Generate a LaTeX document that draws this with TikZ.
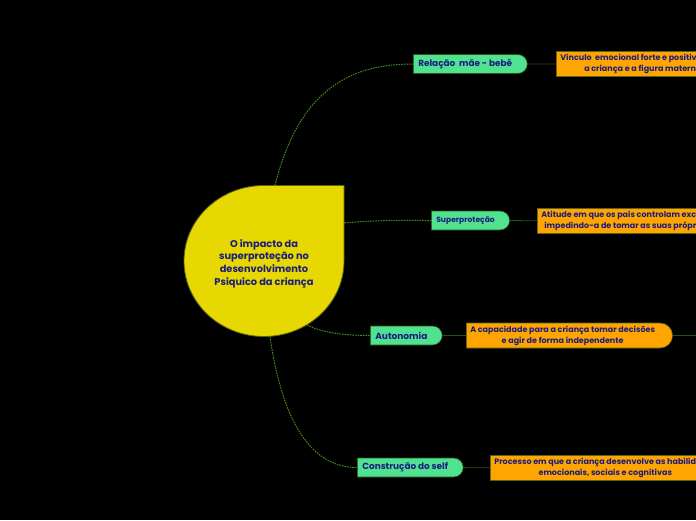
\documentclass[tikz,border=0pt]{standalone}
\usepackage{fontspec}
\setmainfont{Poppins}
\definecolor{mmyellow}{RGB}{230,216,0}
\definecolor{mmolive}{RGB}{90,100,20}
\definecolor{mmgreen}{RGB}{80,226,145}
\definecolor{mmorange}{RGB}{255,165,0}
\definecolor{mmnavy}{RGB}{28,28,128}
\definecolor{mmlink}{RGB}{70,140,20}
\definecolor{mmbranch}{RGB}{40,85,15}
\usetikzlibrary{shapes.misc,shapes.geometric,positioning}
\newcommand{\twolines}[1]{\begin{tabular}{@{}c@{}}#1\end{tabular}}

\begin{document}
\begin{tikzpicture}[
  x=1pt,y=-1pt,
  every node/.style={text=mmnavy},
  rootnode/.style={ellipse,minimum width=160pt,minimum height=151pt,inner sep=0pt,
                   align=center,font=\bfseries\fontsize{9.8}{12.7}\selectfont},
  topic/.style={rounded rectangle,rounded rectangle left arc=none,fill=mmgreen,
                draw=mmbranch,line width=0.6pt,minimum height=19pt,inner xsep=5pt,
                inner ysep=0pt,anchor=west,execute at end node={\hspace{9pt}},
                font=\bfseries\fontsize{8.9}{10}\selectfont},
  idea/.style={rounded rectangle,rounded rectangle left arc=none,fill=mmorange,
               draw=mmolive,line width=0.6pt,minimum height=25pt,inner xsep=4pt,
               inner ysep=0pt,anchor=west,execute at end node={\hspace{7pt}},
               font=\bfseries\fontsize{8}{11}\selectfont},
  link/.style={dash pattern=on 1.6pt off 1pt,line width=1pt,mmlink},
  branch/.style={line width=0.8pt,mmbranch},
]
  \fill[black] (0,0) rectangle (696,520);
  \useasboundingbox (0,0) rectangle (696,520);
  \clip (0,0) rectangle (696,520);

  % central idea
  \fill[mmyellow,draw=mmolive,line width=0.8pt]
    (344,261) arc[start angle=0,end angle=270,x radius=80,y radius=75.5]
    -- (344,185.5) -- cycle;
  \node[rootnode,yshift=-2.5pt] (root) at (264,261)
    {O impacto da\\superproteção no\\desenvolvimento\\Psiquico da criança};

  % main topics
  \node[topic] (rel) at (413,64) {Relação~ mãe - bebê};
  \node[topic,font=\bfseries\fontsize{7.6}{9}\selectfont] (sup) at (431,220.5) {Superproteção};
  \node[topic,font=\bfseries\fontsize{9}{10}\selectfont] (aut) at (370,335.5) {Autonomia};
  \node[topic] (self) at (357,467.5) {Construção do self};

  % details
  \node[idea] (relidea) at (556,64)
    {\twolines{Vínculo~ emocional forte e positivo entre\\a criança e a figura materna}};
  \node[idea] (supidea) at (537,221)
    {\twolines{Atitude em que os pais controlam excessivamente\\impedindo-a de tomar as suas próprias decisões}};
  \node[idea] (autidea) at (466,335.5)
    {\twolines{A capacidade para a criança tomar decisões\\e agir de forma independente}};
  \node[idea] (selfidea) at (490,468)
    {\twolines{Processo em que a criança desenvolve as habilidades\\emocionais, sociais e cognitivas}};
  \coordinate (autnext) at (730,335.5);

  % links
  \draw[link] ([shift={(11pt,2.5pt)}]root.north) .. controls +(25,-100) and +(-58,0) .. (rel.west);
  \draw[link] ([yshift=40.5pt]root.east) .. controls +(30,-3) and +(-30,0) .. (sup.west);
  \draw[link] ([yshift=2.5pt]root.-56) .. controls +(15,8) and +(-25,0) .. (aut.west);
  \draw[link] ([shift={(6pt,2.5pt)}]root.south) .. controls +(12,83) and +(-47,0) .. (self.west);

  \draw[branch] (rel) -- (relidea);
  \draw[branch] (sup) -- (supidea);
  \draw[branch] (aut) -- (autidea);
  \draw[branch] (self) -- (selfidea);
  \draw[branch] (autidea) -- (autnext);
\end{tikzpicture}
\end{document}
